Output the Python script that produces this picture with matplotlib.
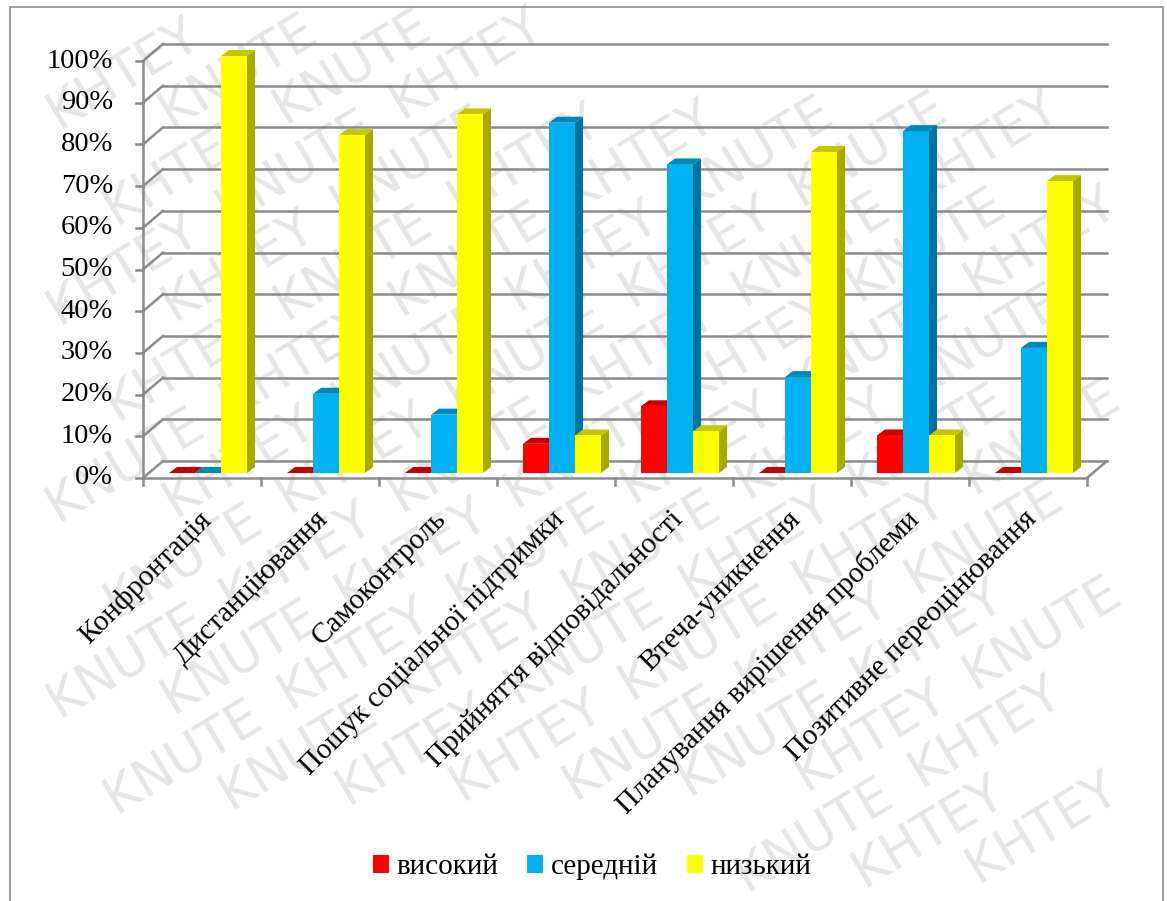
import math
import matplotlib
matplotlib.use("Agg")
from matplotlib import pyplot as plt
from matplotlib.patches import Polygon, Patch, Rectangle

categories = ["Конфронтація", "Дистанціювання", "Самоконтроль",
              "Пошук соціальної підтримки", "Прийняття відповідальності",
              "Втеча-уникнення", "Планування вирішення проблеми",
              "Позитивне переоцінювання"]
high = [0, 0, 0, 7, 16, 0, 9, 0]
medium = [0, 19, 14, 84, 74, 23, 82, 30]
low = [100, 81, 86, 9, 10, 77, 9, 70]
series_names = ["високий", "середній", "низький"]
y_ticks = [0, 10, 20, 30, 40, 50, 60, 70, 80, 90, 100]
watermark_words = ["KNUTE", "KHTEY"]

front_colors = ["#FF0000", "#00B0F0", "#FFFF00"]
side_colors = ["#B00000", "#00739C", "#A8A800"]
top_colors = ["#C80000", "#0088B8", "#C4C400"]

W, H = 1167, 901
fig = plt.figure(figsize=(W / 100, H / 100), dpi=100)
plt.rcParams['font.family'] = ['Liberation Serif', 'DejaVu Serif']

# watermark: one word per text, keep only words lying fully inside the figure
ang = math.radians(31)
ca, sa = math.cos(ang), math.sin(ang)
step, sp = 200, 56
hw, hh = 86 * ca + 19 * sa, 86 * sa + 19 * ca   # half extents of a rotated word
for r in range(-18, 19):
    for k in range(-7, 8):
        kk = k + 0.5 * (r % 2)
        px = 583 + kk * step * ca - r * sp * sa
        py = 450 + kk * step * sa + r * sp * ca
        if px - hw < 2 or px + hw > W - 2 or py - hh < 2 or py + hh > H - 2:
            continue
        fig.text(px / W, py / H, watermark_words[(k + r) % 2], rotation=31,
                 fontsize=37, color="#e5e5e5", family="DejaVu Sans",
                 ha="center", va="center", zorder=-5)

fig.patches.append(Rectangle((10 / W, -0.01), 1153 / W, (H - 7) / H + 0.01,
                             transform=fig.transFigure, fill=False,
                             edgecolor="#8c8c8c", linewidth=1.2, zorder=1))

# bar plane: x -0.5..7.5 -> px 149..1093, y 0..100 -> px 473..56
ax = fig.add_axes([149 / W, (H - 473) / H, 944 / W, 417 / H])
ax.set_xlim(-0.5, 7.5)
ax.set_ylim(0, 100)
ax.axis("off")

n = len(categories)
gx, gy = 14 / 118, 12 * 100 / 417      # back wall offset
fx, fy = -6 / 118, -5 * 100 / 417      # front plane offset
dx, dy = 8 / 118, 6 * 100 / 417        # bar depth
grid_c = "#8a8a8a"
lw = 1.8

# back wall gridlines + left wall
for v in y_ticks:
    ax.plot([-0.5 + gx, n - 0.5 + gx], [v + gy, v + gy], color=grid_c, lw=lw,
            clip_on=False, zorder=1)
    ax.plot([-0.5 + fx, -0.5 + gx], [v + fy, v + gy], color=grid_c, lw=lw,
            clip_on=False, zorder=1)
# floor
ax.plot([-0.5 + fx, n - 0.5 + fx], [fy, fy], color=grid_c, lw=lw, clip_on=False, zorder=1)
ax.plot([n - 0.5 + fx, n - 0.5 + gx], [fy, gy], color=grid_c, lw=lw, clip_on=False, zorder=1)
# front vertical axis with ticks
ax.plot([-0.5 + fx, -0.5 + fx], [fy, 100 + fy], color=grid_c, lw=lw, clip_on=False, zorder=1)
for v in y_ticks:
    ax.plot([-0.5 + fx - 7 / 118, -0.5 + fx], [v + fy, v + fy], color=grid_c, lw=lw,
            clip_on=False, zorder=1)
    ax.text(-0.5 + fx - 30 / 118, v + fy, f"{v}%", ha="right", va="center",
            fontsize=20.5, clip_on=False)
for k in range(n + 1):
    ax.plot([k - 0.5 + fx, k - 0.5 + fx], [fy, fy - 7 * 100 / 417], color=grid_c,
            lw=lw, clip_on=False, zorder=1)

# bars
bw = 26 / 118
for i in range(n):
    vals = [high[i], medium[i], low[i]]
    x0 = i - 0.5 + 26 / 118 - 6 / 118
    for j, v in enumerate(vals):
        xl = x0 + j * bw
        xr = xl + bw
        z = 3 + i * 3 + j
        ax.add_patch(Polygon([(xr, 0), (xr + dx, dy), (xr + dx, v + dy), (xr, v)],
                             closed=True, facecolor=side_colors[j], edgecolor="none",
                             zorder=z, clip_on=False))
        ax.add_patch(Polygon([(xl, v), (xr, v), (xr + dx, v + dy), (xl + dx, v + dy)],
                             closed=True, facecolor=top_colors[j], edgecolor="none",
                             zorder=z, clip_on=False))
        if v > 0:
            ax.add_patch(Rectangle((xl, 0), bw, v, facecolor=front_colors[j],
                                   edgecolor="none", zorder=z + 0.5, clip_on=False))

# category labels
for i, name in enumerate(categories):
    ax.text(i - 0.09, -8, name, rotation=45, ha="right", va="top",
            rotation_mode="anchor", fontsize=21, clip_on=False)

handles = [Patch(facecolor=c, edgecolor="none") for c in front_colors]
fig.legend(handles, series_names, loc="center", bbox_to_anchor=(592 / W, 1 - 867 / H),
           ncol=3, frameon=False, fontsize=21, handlelength=0.55, handleheight=0.55,
           handletextpad=0.25, columnspacing=1.0)

fig.savefig("out.png", dpi=100)
